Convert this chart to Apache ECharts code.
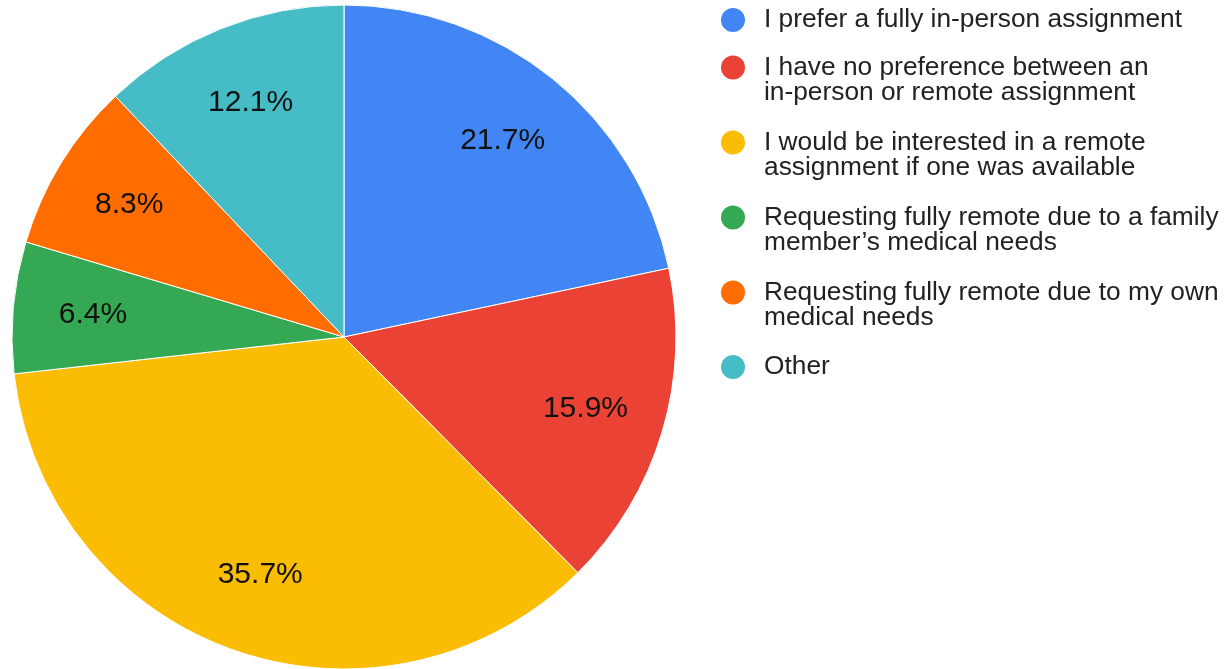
<!DOCTYPE html>
<html>
<head>
<meta charset="utf-8">
<script src="https://cdn.jsdelivr.net/npm/echarts@6/dist/echarts.min.js"></script>
<style>
html,body{margin:0;padding:0;background:#fff;}
#chart{width:1224px;height:669px;}
</style>
</head>
<body>
<div id="chart"></div>
<script>
// Data
const categories = [
  "I prefer a fully in-person assignment",
  "I have no preference between an\nin-person or remote assignment",
  "I would be interested in a remote\nassignment if one was available",
  "Requesting fully remote due to a family\nmember\u2019s medical needs",
  "Requesting fully remote due to my own\nmedical needs",
  "Other"
];
const values = [21.7, 15.9, 35.7, 6.4, 8.3, 12.1];
const colors = ["#4285F4", "#EA4335", "#FBBC04", "#34A853", "#FF6D01", "#46BDC6"];

const FONT = "Liberation Sans, Arial, sans-serif";
const chart = echarts.init(document.getElementById('chart'), null, {renderer: 'canvas'});

const pieData = categories.map((c, i) => ({name: c, value: values[i], itemStyle: {color: colors[i]}}));

// legend icon centre y positions (layout)
const legendCenters = [19, 67, 142, 217, 292, 366];
const legends = categories.map((c, i) => {
  const twoLine = c.indexOf('\n') >= 0;
  return {
    data: [c],
    orient: 'vertical',
    left: 719,
    top: twoLine ? legendCenters[i] - 37.5 : legendCenters[i] - 13,
    padding: 0,
    itemGap: 0,
    icon: 'circle',
    itemWidth: 26,
    itemHeight: 26,
    selectedMode: false,
    formatter: name => (twoLine ? '\n' : '') + name,
    textStyle: {
      fontFamily: FONT,
      fontSize: 26.3,
      lineHeight: 25,
      color: '#222',
      padding: [0, 0, 0, 13]
    }
  };
});

chart.setOption({
  animation: false,
  backgroundColor: '#fff',
  legend: legends,
  series: [
    {
      type: 'pie',
      center: [344, 337],
      radius: 332,
      startAngle: 90,
      clockwise: true,
      silent: true,
      label: {show: false},
      labelLine: {show: false},
      itemStyle: {borderColor: '#fff', borderWidth: 1},
      data: pieData
    },
    {
      type: 'pie',
      center: [344, 337],
      radius: [166, 332],
      startAngle: 90,
      clockwise: true,
      silent: true,
      itemStyle: {color: 'rgba(0,0,0,0)', borderWidth: 0},
      label: {
        show: true,
        position: 'inside',
        formatter: p => p.value.toFixed(1) + '%',
        fontFamily: FONT,
        fontSize: 30,
        color: '#111'
      },
      labelLine: {show: false},
      data: categories.map((c, i) => ({name: c, value: values[i], itemStyle: {color: 'rgba(0,0,0,0)'}}))
    }
  ]
});
</script>
</body>
</html>
